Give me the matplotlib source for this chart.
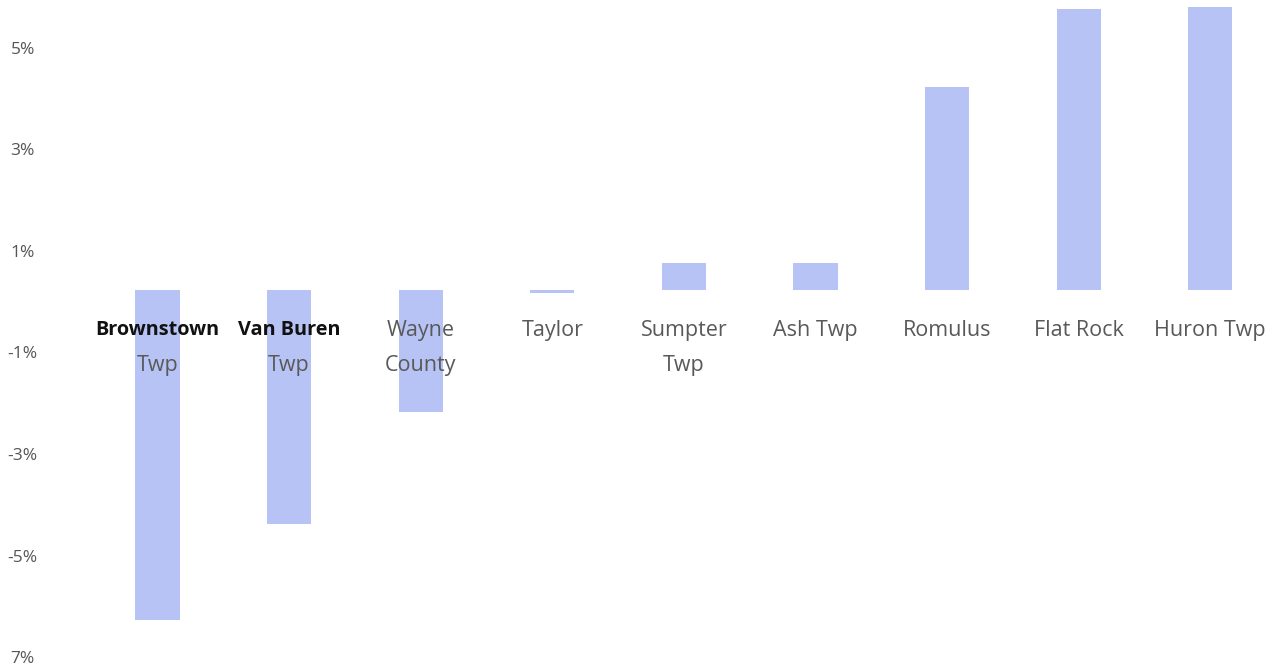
import matplotlib.pyplot as plt

# percent change by community
places = ["Brownstown\nTwp", "Van Buren\nTwp", "Wayne\nCounty", "Taylor",
          "Sumpter\nTwp", "Ash Twp", "Romulus", "Flat Rock", "Huron Twp"]
change = [-6.5, -4.6, -2.4, -0.05, 0.53, 0.53, 4.0, 5.53, 5.57]
bold_places = ["Brownstown\nTwp", "Van Buren\nTwp"]

tick_labels = ["5%", "3%", "1%", "-1%", "-3%", "-5%", "7%"]
tick_values = [5, 3, 1, -1, -3, -5, -7]
label_shift = -0.23  # the percent labels sit slightly below their gridlines

W, H = 1273, 668
fig = plt.figure(figsize=(W / 100, H / 100), dpi=100)
left_px = 45
ax = fig.add_axes([left_px / W, 0, 1 - left_px / W, 1])

x = list(range(len(places)))
ax.bar(x, change, width=0.335, color="#b6c3f4", zorder=1)

step = 131.6
ax.set_xlim((left_px - 157.5) / step, (W - 157.5) / step)
ax.set_ylim(-378 / 50.8, 290 / 50.8)

for s in ax.spines.values():
    s.set_visible(False)
ax.set_xticks([])

# category names hang just under the zero line, over the bars
for i, name in enumerate(places):
    lines = name.split("\n")
    for j, line in enumerate(lines):
        strong = name in bold_places and j == 0
        ax.annotate(line, xy=(i, 0), xytext=(0, -29 - 25.5 * j),
                    textcoords="offset points", ha="center", va="center",
                    family="Open Sans", fontsize=14.3 if strong else 15.5,
                    fontweight="bold" if strong else "normal",
                    color="#111111" if strong else "#595959", zorder=3)

ax.set_yticks([v + label_shift for v in tick_values])
ax.set_yticklabels(tick_labels, fontsize=12.5, family="Open Sans", color="#555555",
                   ha="center")
ax.tick_params(axis="y", length=0, pad=16)

fig.savefig("out.png", dpi=100)
